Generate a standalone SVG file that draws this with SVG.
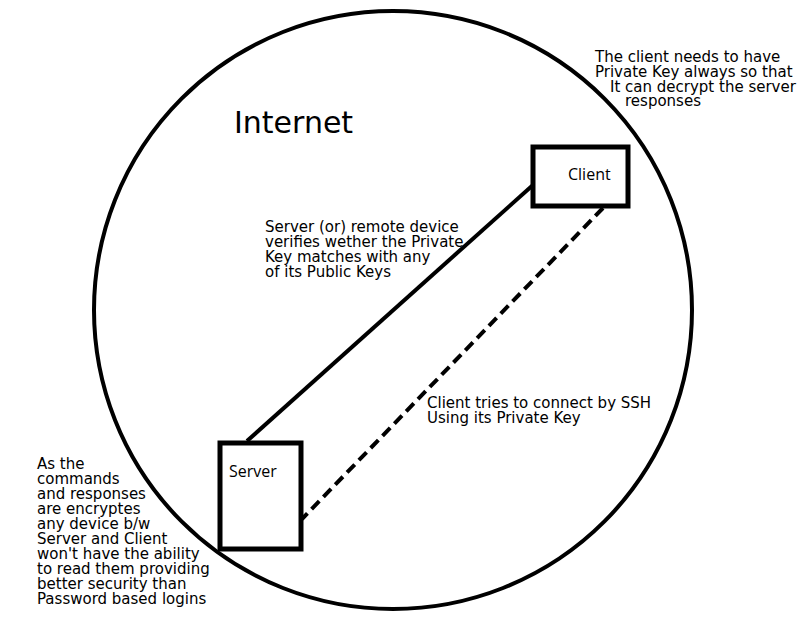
<svg xmlns="http://www.w3.org/2000/svg" width="800" height="640" viewBox="0 0 800 640">
<style>
.t{font-family:"DejaVu Sans",sans-serif;font-size:15px;fill:#000}
.lbl{font-family:"Open Sans","DejaVu Sans",sans-serif;font-size:16px;fill:#000}
.box{fill:#fff;stroke:#000;stroke-width:5}
</style>
<rect width="800" height="640" fill="#fff"/>
<g id="internet">
<circle cx="393" cy="310" r="299" fill="none" stroke="#000" stroke-width="4"/>
<text x="234" y="133" style="font-family:'DejaVu Sans',sans-serif;font-size:30px">Internet</text>
</g>
<g id="connectors">
<line x1="247" y1="441" x2="533" y2="185" stroke="#000" stroke-width="4"/>
<line x1="603" y1="208" x2="302" y2="519" stroke="#000" stroke-width="4" stroke-dasharray="11,6"/>
</g>
<g id="client">
<rect class="box" x="533" y="147" width="95" height="59"/>
<text class="lbl" x="568" y="180">Client</text>
</g>
<g id="server">
<rect class="box" x="220" y="443" width="81" height="106"/>
<text class="lbl" x="229" y="477">Server</text>
</g>
<g id="note-client">
<text class="t" x="595" y="62">The client needs to have</text>
<text class="t" x="595" y="77">Private Key always so that</text>
<text class="t" x="610" y="92">It can decrypt the server</text>
<text class="t" x="625" y="106">responses</text>
</g>
<g id="note-server">
<text class="t" x="265" y="232">Server (or) remote device</text>
<text class="t" x="265" y="247">verifies wether the Private</text>
<text class="t" x="265" y="262">Key matches with any</text>
<text class="t" x="265" y="277">of its Public Keys</text>
</g>
<g id="note-ssh">
<text class="t" x="427" y="408">Client tries to connect by SSH</text>
<text class="t" x="427" y="423">Using its Private Key</text>
</g>
<g id="note-security">
<text class="t" x="37" y="469">As the</text>
<text class="t" x="37" y="484">commands</text>
<text class="t" x="37" y="499">and responses</text>
<text class="t" x="37" y="514">are encryptes</text>
<text class="t" x="37" y="529">any device b/w</text>
<text class="t" x="37" y="544">Server and Client</text>
<text class="t" x="37" y="559">won't have the ability</text>
<text class="t" x="37" y="574">to read them providing</text>
<text class="t" x="37" y="589">better security than</text>
<text class="t" x="37" y="604">Password based logins</text>
</g>
</svg>
